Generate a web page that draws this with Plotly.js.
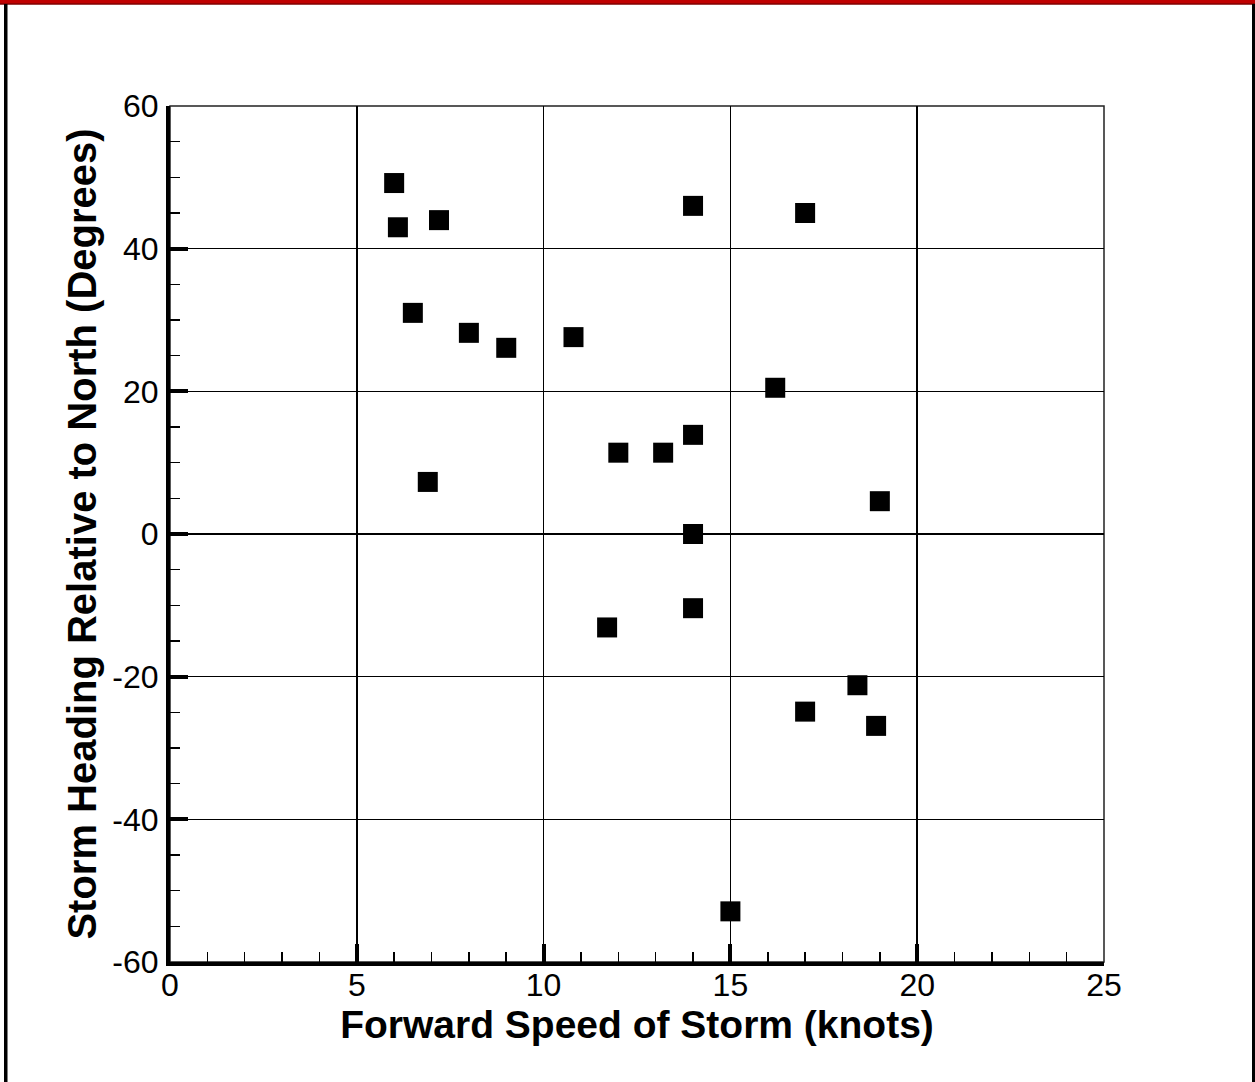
<!DOCTYPE html>
<html>
<head>
<meta charset="utf-8">
<script src="https://cdn.plot.ly/plotly-3.0.1.min.js"></script>
<style>
  html, body { margin: 0; padding: 0; background: #ffffff; }
  #chart { width: 1255px; height: 1082px; }
</style>
</head>
<body>
<div id="chart"></div>
<script>
// Data
const forwardSpeedKnots = [6.0, 6.1, 7.2, 6.5, 8.0, 9.0, 10.8, 6.9, 12.0, 13.2, 14.0, 14.0, 17.0, 16.2, 19.0, 14.0, 14.0, 11.7, 17.0, 18.4, 18.9, 15.0];
const headingDegrees   = [49.2, 43.0, 44.0, 31.0, 28.2, 26.1, 27.6, 7.3, 11.4, 11.4, 13.9, 46.0, 45.0, 20.5, 4.6, 0.0, -10.4, -13.1, -24.9, -21.2, -26.9, -52.9];
const xTickValues = [0, 5, 10, 15, 20, 25];
const yTickValues = [-60, -40, -20, 0, 20, 40, 60];
const xTitle = "Forward Speed of Storm (knots)";
const yTitle = "Storm Heading Relative to North (Degrees)";

const W = 1255, H = 1082;
const M = { l: 170, r: 151, t: 106, b: 120 };
const pw = W - M.l - M.r, ph = H - M.t - M.b;
// helpers to convert page pixels to paper coordinates (for the frame only)
const px = v => (v - M.l) / pw;
const py = v => 1 - (v - M.t) / ph;

const font = "Liberation Sans, Arial, Helvetica, sans-serif";

const trace = {
  type: "scatter",
  mode: "markers",
  x: forwardSpeedKnots,
  y: headingDegrees,
  marker: { symbol: "square", size: 20, color: "#000000", line: { width: 0 } },
  hoverinfo: "x+y",
  showlegend: false
};

const commonAxis = {
  showline: true,
  linecolor: "#000000",
  linewidth: 4,
  ticks: "inside",
  ticklen: 18,
  tickwidth: 4,
  tickcolor: "#000000",
  showgrid: true,
  gridcolor: "#000000",
  gridwidth: 1.5,
  zeroline: false,
  mirror: false,
  automargin: false,
  tickfont: { family: font, size: 32, color: "#000000" }
};

const layout = {
  width: W,
  height: H,
  margin: M,
  paper_bgcolor: "#ffffff",
  plot_bgcolor: "#ffffff",
  font: { family: font, color: "#000000" },
  xaxis: Object.assign({}, commonAxis, {
    range: [0, 25],
    tickmode: "array",
    tickvals: xTickValues,
    ticktext: xTickValues.map(String),
    ticklabelstandoff: -8,
    minor: { dtick: 1, tick0: 0, ticks: "inside", ticklen: 10, tickwidth: 1.5, tickcolor: "#000000", showgrid: false },
    title: { text: xTitle, font: { family: font, size: 39, color: "#000000", weight: "bold" }, standoff: 0 }
  }),
  yaxis: Object.assign({}, commonAxis, {
    range: [-60, 60],
    tickmode: "array",
    tickvals: yTickValues,
    ticktext: yTickValues.map(String),
    ticklabelstandoff: 1,
    minor: { dtick: 5, tick0: 0, ticks: "inside", ticklen: 10, tickwidth: 1.5, tickcolor: "#000000", showgrid: false },
    title: { text: yTitle, font: { family: font, size: 40, color: "#000000", weight: "bold" }, standoff: 4 }
  }),
  shapes: [
    // thin box on top/right of plot area
    { type: "rect", xref: "paper", yref: "paper", x0: 0, x1: 1, y0: 0, y1: 1,
      line: { color: "#222222", width: 1.5 }, fillcolor: "rgba(0,0,0,0)", layer: "below" },
    // page frame: red top bar
    { type: "rect", xref: "paper", yref: "paper", x0: px(0), x1: px(W), y0: py(4.5), y1: py(0),
      line: { width: 0 }, fillcolor: "#c00000", layer: "above" },
    { type: "line", xref: "paper", yref: "paper", x0: px(0), x1: px(W), y0: py(4), y1: py(4),
      line: { color: "#600000", width: 1 }, layer: "above" },
    // left black border
    { type: "rect", xref: "paper", yref: "paper", x0: px(4), x1: px(7.5), y0: py(H), y1: py(4),
      line: { width: 0 }, fillcolor: "#000000", layer: "above" },
    // right black border
    { type: "rect", xref: "paper", yref: "paper", x0: px(1252), x1: px(W), y0: py(H), y1: py(4),
      line: { width: 0 }, fillcolor: "#000000", layer: "above" }
  ]
};

Plotly.newPlot("chart", [trace], layout, { displayModeBar: false, staticPlot: true });
</script>
</body>
</html>
